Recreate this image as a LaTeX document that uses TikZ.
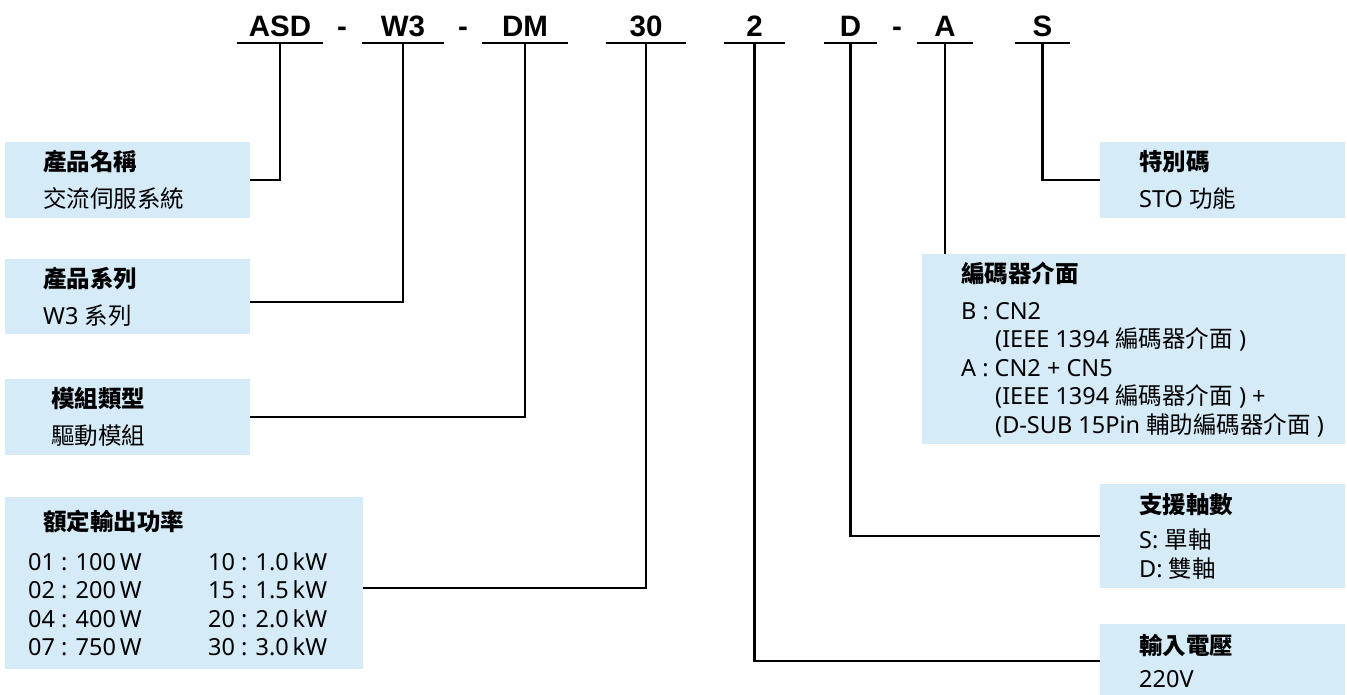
\documentclass[tikz,border=0pt]{standalone}
\usepackage{fontspec}
\setmainfont{Noto Sans}
\newfontfamily\codefont{Liberation Sans}
\newfontfamily\cjk{Noto Sans CJK TC}
\newcommand{\zh}[1]{{\cjk #1}}
\newcommand{\zhb}[1]{{\cjk\bfseries #1}}
\definecolor{pnblue}{HTML}{D5EBF8}
\usetikzlibrary{positioning}

\begin{document}
\begin{tikzpicture}[x=1pt,y=-1pt,
  code/.style={font=\codefont\bfseries\fontsize{29.5}{30}\selectfont,anchor=base,
    inner sep=0pt,text height=21pt,text depth=6pt},
  uline/.style={line width=2.2pt},
  info/.style={fill=pnblue,anchor=north west,inner sep=0pt},
  infotext/.style={align=left,inner sep=0pt,font=\fontsize{23.5}{28.5}\selectfont},
  link/.style={line width=2.2pt}]
  \useasboundingbox (0,0) rectangle (1347,695);
  % model code
  \node[code,minimum width=86pt] (asd) at (280,37)   {ASD};
  \node[code]                    (d1)  at (342,37)   {-};
  \node[code,minimum width=82pt] (w3)  at (403,37)   {W3};
  \node[code]                    (d2)  at (463,37)   {-};
  \node[code,minimum width=86pt] (dm)  at (525,37)   {DM};
  \node[code,minimum width=80pt] (p30) at (646,37)   {30};
  \node[code,minimum width=61pt] (v2)  at (754.5,37) {2};
  \node[code,minimum width=53pt] (ax)  at (850.5,37) {D};
  \node[code]                    (d3)  at (897,37)   {-};
  \node[code,minimum width=56pt] (enc) at (945,37)   {A};
  \node[code,minimum width=55pt] (sp)  at (1042.5,37){S};
  \foreach \n in {asd,w3,dm,p30,v2,ax,enc,sp}
    \draw[uline] (\n.south west) -- (\n.south east);
  % left boxes
  \node[info,minimum width=245pt,minimum height=76pt]  (prodname) at (5,142) {};
  \node[infotext,right=38pt of prodname.west] (prodname-t)
    {\zhb{產品名稱}\\[8.5pt]\zh{交流伺服系統}};
  \node[info,minimum width=245pt,minimum height=75pt]  (series) at (5,259) {};
  \node[infotext,right=38pt of series.west] (series-t)
    {\zhb{產品系列}\\[8.5pt]W3 \zh{系列}};
  \node[info,minimum width=245pt,minimum height=76pt]  (module) at (5,379) {};
  \node[infotext,right=46pt of module.west] (module-t)
    {\zhb{模組類型}\\[8.5pt]\zh{驅動模組}};
  \node[info,minimum width=358pt,minimum height=172pt] (power) at (5,497) {};
  \node[infotext,right=23pt of power.west] (power-t)
    {\hspace*{15pt}\zhb{額定輸出功率}\\[11.5pt]
     \makebox[180pt][l]{01 : 100\,W}10 : 1.0\,kW\\
     \makebox[180pt][l]{02 : 200\,W}15 : 1.5\,kW\\
     \makebox[180pt][l]{04 : 400\,W}20 : 2.0\,kW\\
     \makebox[180pt][l]{07 : 750\,W}30 : 3.0\,kW};
  % right boxes
  \node[info,minimum width=245pt,minimum height=76pt]  (special) at (1100,142) {};
  \node[infotext,right=39pt of special.west] (special-t)
    {\zhb{特別碼}\\[8.5pt]STO \zh{功能}};
  \node[info,minimum width=423pt,minimum height=190pt] (encoder) at (922,254) {};
  \node[infotext,right=39pt of encoder.west] (encoder-t)
    {\zhb{編碼器介面}\\[8.5pt]
     B : CN2\\
     \hspace*{34pt}(IEEE 1394 \zh{編碼器介面} )\\
     A : CN2 + CN5\\
     \hspace*{34pt}(IEEE 1394 \zh{編碼器介面} ) +\\
     \hspace*{34pt}(D-SUB 15Pin \zh{輔助編碼器介面} )};
  \node[info,minimum width=245pt,minimum height=104pt] (axes) at (1100,484) {};
  \node[infotext,right=39pt of axes.west] (axes-t)
    {\zhb{支援軸數}\\[6.5pt]S: \zh{單軸}\\D: \zh{雙軸}};
  \node[info,minimum width=245pt,minimum height=74pt]  (volt) at (1100,624) {};
  \node[infotext,right=39pt of volt.west] (volt-t)
    {\zhb{輸入電壓}\\[5pt]220V};
  % connectors
  \draw[link] (asd.south) |- (prodname.east);
  \draw[link] (w3.south)  |- ([yshift=-5pt]series.east);
  \draw[link] (dm.south)  |- (module.east);
  \draw[link] (p30.south) |- ([yshift=-5pt]power.east);
  \draw[link] (v2.south)  |- (volt.west);
  \draw[link] (ax.south)  |- (axes.west);
  \draw[link] (enc.south) -- (enc.south |- encoder.north);
  \draw[link] (sp.south)  |- (special.west);
\end{tikzpicture}
\end{document}
